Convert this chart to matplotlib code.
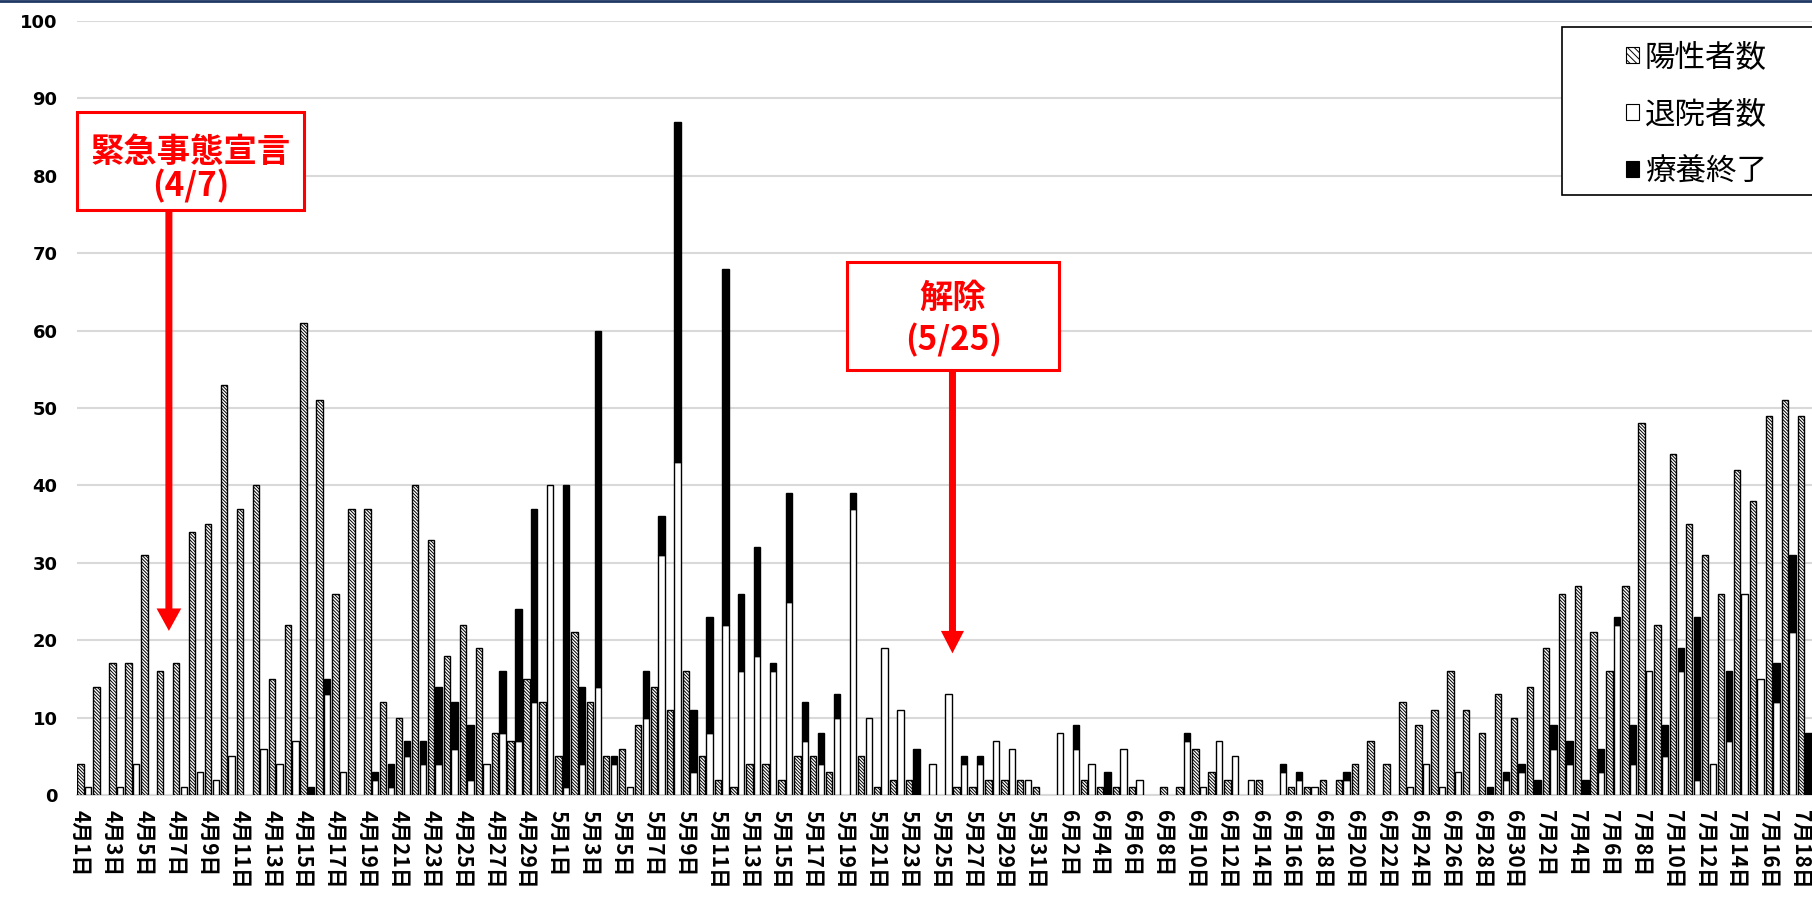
import matplotlib
matplotlib.use("Agg")
import matplotlib.pyplot as plt
from matplotlib.patches import Patch, Rectangle, FancyArrow
from matplotlib.lines import Line2D
import numpy as np
import pandas as pd

plt.rcParams['font.family'] = ['Noto Sans CJK JP', 'DejaVu Sans']
plt.rcParams['hatch.linewidth'] = 0.7

# days 4/1 .. 7/18
dates = pd.date_range('2020-04-01', '2020-07-18')
day_labels = [f"{d.month}月{d.day}日" for d in dates]

series_names = ['陽性者数', '退院者数', '療養終了']

positive = [4, 14, 17, 17, 31, 16, 17, 34, 35, 53, 37, 40, 15, 22, 61, 51, 26, 37, 37, 12,
            10, 40, 33, 18, 22, 19, 8, 7, 15, 12, 5, 21, 12, 5, 6, 9, 14, 11, 16, 5,
            2, 1, 4, 4, 2, 5, 5, 3, 0, 5, 1, 2, 2, 0, 0, 1, 1, 2, 2, 2,
            1, 0, 0, 2, 1, 1, 1, 0, 1, 1, 6, 3, 2, 0, 2, 0, 1, 1, 2, 2,
            4, 7, 4, 12, 9, 11, 16, 11, 8, 13, 10, 14, 19, 26, 27, 21, 16, 27, 48, 22,
            44, 35, 31, 26, 42, 38, 49, 51, 49]
discharged = [1, 0, 1, 4, 0, 0, 1, 3, 2, 5, 0, 6, 4, 7, 0, 13, 3, 0, 2, 1,
              5, 4, 4, 6, 2, 4, 8, 7, 12, 40, 1, 4, 14, 4, 1, 10, 31, 43, 3, 8,
              22, 16, 18, 16, 25, 7, 4, 10, 37, 10, 19, 11, 0, 4, 13, 4, 4, 7, 6, 2,
              0, 8, 6, 4, 0, 6, 2, 0, 0, 7, 1, 7, 5, 2, 0, 3, 2, 1, 0, 2,
              0, 0, 0, 1, 4, 1, 3, 0, 0, 2, 3, 0, 6, 4, 0, 3, 22, 4, 16, 5,
              16, 2, 4, 7, 26, 15, 12, 21, 0]
recovered = [0, 0, 0, 0, 0, 0, 0, 0, 0, 0, 0, 0, 0, 0, 1, 2, 0, 0, 1, 3,
             2, 3, 10, 6, 7, 0, 8, 17, 25, 0, 39, 10, 46, 1, 0, 6, 5, 44, 8, 15,
             46, 10, 14, 1, 14, 5, 4, 3, 2, 0, 0, 0, 6, 0, 0, 1, 1, 0, 0, 0,
             0, 0, 3, 0, 3, 0, 0, 0, 0, 1, 0, 0, 0, 0, 0, 1, 1, 0, 0, 1,
             0, 0, 0, 0, 0, 0, 0, 0, 1, 1, 1, 2, 3, 3, 2, 3, 1, 5, 0, 4,
             3, 21, 0, 9, 0, 0, 5, 10, 8]

positive = np.array(positive)
discharged = np.array(discharged)
recovered = np.array(recovered)
x = np.arange(len(dates))

W, H = 1812, 902
fig = plt.figure(figsize=(W / 100, H / 100), dpi=100)
ax = fig.add_axes([77 / W, 1 - 795 / H, 1 - 77 / W, (795 - 21) / H])

w = 0.40
off = 0.24
lw = 1.0
hatch = '\\' * 10

ax.bar(x - off, positive, w, color='white', edgecolor='black', hatch=hatch,
       linewidth=np.where(positive > 0, lw, 0), zorder=3)
ax.bar(x + off, discharged, w, color='white', edgecolor='black',
       linewidth=np.where(discharged > 0, lw, 0), zorder=3)
ax.bar(x + off, recovered, w, bottom=discharged, color='black', edgecolor='black',
       linewidth=np.where(recovered > 0, lw, 0), zorder=3)

ax.set_xlim(-0.47, len(x) - 1 + 0.47)
ax.set_ylim(0, 100)
ax.set_yticks(range(0, 101, 10))
ax.set_yticklabels([str(v) for v in range(0, 101, 10)], fontfamily='DejaVu Sans',
                   fontweight='bold', fontsize=13)
ax.set_xticks(x[::2] - off)
ax.set_xticklabels(day_labels[::2], rotation=270, fontsize=15, fontweight='bold',
                   ha='center', va='top')
ax.tick_params(axis='both', length=0)
ax.tick_params(axis='y', pad=14)
ax.tick_params(axis='x', pad=11)
ax.grid(axis='y', color='#d9d9d9', linewidth=1.5, zorder=0)
ax.set_axisbelow(True)
for s in ['top', 'right', 'left']:
    ax.spines[s].set_visible(False)
ax.spines['bottom'].set_color('#d9d9d9')
ax.spines['bottom'].set_linewidth(1.5)

# annotation: state of emergency
ax.add_patch(Rectangle((-0.47, 75.6), 14.25, 12.6, facecolor='white', edgecolor='red',
                       linewidth=2.2, zorder=5, clip_on=False))
ax.text(6.65, 83.0, '緊急事態宣言', color='red', fontsize=24, fontweight='bold',
        ha='center', va='center', zorder=6)
ax.text(6.65, 78.6, '(4/7)', color='red', fontsize=24, fontweight='bold',
        ha='center', va='center', zorder=6)
ax.add_patch(FancyArrow(5.3, 75.6, 0, -75.6 + 21.2, width=0.44, head_width=1.55,
                        head_length=2.9, length_includes_head=True, color='red',
                        linewidth=0, zorder=6))

# annotation: lifted
ax.add_patch(Rectangle((47.9, 54.9), 13.3, 14.0, facecolor='white', edgecolor='red',
                       linewidth=2.2, zorder=5, clip_on=False))
ax.text(54.55, 64.2, '解除', color='red', fontsize=24, fontweight='bold',
        ha='center', va='center', zorder=6)
ax.text(54.55, 58.7, '(5/25)', color='red', fontsize=24, fontweight='bold',
        ha='center', va='center', zorder=6)
ax.add_patch(FancyArrow(54.5, 54.9, 0, -54.9 + 18.3, width=0.44, head_width=1.45,
                        head_length=2.9, length_includes_head=True, color='red',
                        linewidth=0, zorder=6))

# legend
fig.add_artist(Rectangle((1562 / W, 1 - 195 / H), (1820 - 1562) / W, (195 - 27) / H,
                         transform=fig.transFigure, facecolor='white', edgecolor='black',
                         linewidth=1.2, zorder=5))
handles = [Patch(facecolor='white', edgecolor='black', hatch='\\' * 5, linewidth=0.8),
           Patch(facecolor='white', edgecolor='black', linewidth=0.8),
           Patch(facecolor='black', edgecolor='black', linewidth=0.8)]
leg = fig.legend(handles, series_names, loc='upper left', bbox_to_anchor=(1626 / W, 1 - 42 / H),
                 frameon=False, fontsize=22, handlelength=0.42, handleheight=0.42,
                 handletextpad=0.2, labelspacing=0.85, borderpad=0, borderaxespad=0)
leg.set_zorder(6)

fig.add_artist(Line2D([0, 1], [1 - 1.2 / H] * 2, transform=fig.transFigure,
                      color='#1F3864', linewidth=2))

fig.savefig('out.png', dpi=100)
